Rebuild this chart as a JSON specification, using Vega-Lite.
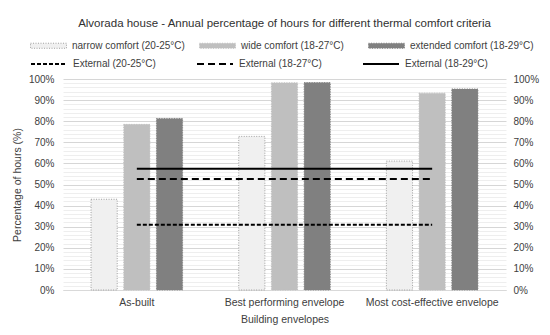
{
  "$schema": "https://vega.github.io/schema/vega-lite/v6.json",
  "width": 443,
  "height": 211,
  "autosize": {"type": "none"},
  "padding": {"left": 63, "top": 79, "right": 44, "bottom": 45},
  "background": "white",
  "config": {
    "view": {"stroke": null},
    "font": "Liberation Sans",
    "axis": {"labelColor": "#404040", "titleColor": "#404040", "labelFontSize": 10, "titleFontSize": 10.5, "titleFontWeight": "normal"},
    "legend": {"labelColor": "#404040", "labelFontSize": 10, "padding": 0}
  },
  "title": {
    "text": "Alvorada house - Annual percentage of hours for different thermal comfort criteria",
    "fontSize": 11.5,
    "fontWeight": "normal",
    "color": "#303030",
    "anchor": "middle",
    "frame": "group",
    "offset": -2
  },
  "datasets": {
    "bars": [
      {"envelope": "As-built", "criterion": "narrow comfort (20-25°C)", "value": 43},
      {"envelope": "As-built", "criterion": "wide comfort (18-27°C)", "value": 78.5},
      {"envelope": "As-built", "criterion": "extended comfort (18-29°C)", "value": 81.3},
      {"envelope": "Best performing envelope", "criterion": "narrow comfort (20-25°C)", "value": 72.8},
      {"envelope": "Best performing envelope", "criterion": "wide comfort (18-27°C)", "value": 98.2},
      {"envelope": "Best performing envelope", "criterion": "extended comfort (18-29°C)", "value": 98.3},
      {"envelope": "Most cost-effective envelope", "criterion": "narrow comfort (20-25°C)", "value": 61.1},
      {"envelope": "Most cost-effective envelope", "criterion": "wide comfort (18-27°C)", "value": 93.3},
      {"envelope": "Most cost-effective envelope", "criterion": "extended comfort (18-29°C)", "value": 95.3}
    ],
    "lines": [
      {"envelope": "As-built", "external": "External (20-25°C)", "value": 30.9},
      {"envelope": "Best performing envelope", "external": "External (20-25°C)", "value": 30.9},
      {"envelope": "Most cost-effective envelope", "external": "External (20-25°C)", "value": 30.9},
      {"envelope": "As-built", "external": "External (18-27°C)", "value": 52.6},
      {"envelope": "Best performing envelope", "external": "External (18-27°C)", "value": 52.6},
      {"envelope": "Most cost-effective envelope", "external": "External (18-27°C)", "value": 52.6},
      {"envelope": "As-built", "external": "External (18-29°C)", "value": 57.5},
      {"envelope": "Best performing envelope", "external": "External (18-29°C)", "value": 57.5},
      {"envelope": "Most cost-effective envelope", "external": "External (18-29°C)", "value": 57.5}
    ]
  },
  "layer": [
    {
      "data": {"name": "bars"},
      "mark": {"type": "bar", "strokeWidth": 1, "strokeDash": [1, 1.5]},
      "encoding": {
        "x": {
          "field": "envelope", "type": "nominal",
          "scale": {"domain": ["As-built", "Best performing envelope", "Most cost-effective envelope"], "paddingInner": 0.38, "paddingOuter": 0.19},
          "axis": {"title": "Building envelopes", "labelAngle": 0, "ticks": false, "domain": true, "domainColor": "#d9d9d9", "grid": false, "labelPadding": 7, "titlePadding": 7, "labelLimit": 300, "labelFontSize": 10.5}
        },
        "xOffset": {
          "field": "criterion", "type": "nominal",
          "scale": {"domain": ["narrow comfort (20-25°C)", "wide comfort (18-27°C)", "extended comfort (18-29°C)"], "paddingInner": 0.2}
        },
        "y": {
          "field": "value", "type": "quantitative",
          "scale": {"domain": [0, 100], "nice": false},
          "axis": {"orient": "left", "title": "Percentage of hours (%)", "values": [0, 10, 20, 30, 40, 50, 60, 70, 80, 90, 100], "labelExpr": "datum.value + '%'", "grid": false, "domain": false, "ticks": false, "labelPadding": 9, "titlePadding": 6}
        },
        "fill": {
          "field": "criterion", "type": "nominal",
          "scale": {"domain": ["narrow comfort (20-25°C)", "wide comfort (18-27°C)", "extended comfort (18-29°C)"], "range": ["#f0f0f0", "#bfbfbf", "#808080"]},
          "legend": {"orient": "none", "legendX": -33, "legendY": -52, "direction": "horizontal", "columns": 3, "gridAlign": "all", "columnPadding": 1, "title": null, "symbolType": "M-1,-0.14H1V0.14H-1Z", "symbolSize": 1296, "symbolStrokeWidth": 1, "symbolDash": [1, 1.5], "labelOffset": 5, "labelLimit": 300}
        },
        "stroke": {
          "field": "criterion", "type": "nominal",
          "scale": {"domain": ["narrow comfort (20-25°C)", "wide comfort (18-27°C)", "extended comfort (18-29°C)"], "range": ["#a0a0a0", "#bfbfbf", "#808080"]},
          "legend": null
        }
      }
    },
    {
      "data": {"name": "lines"},
      "mark": {"type": "line", "color": "#000000", "strokeWidth": 2},
      "encoding": {
        "x": {
          "field": "envelope", "type": "nominal", "bandPosition": 0.5,
          "scale": {"domain": ["As-built", "Best performing envelope", "Most cost-effective envelope"]}
        },
        "y": {
          "field": "value", "type": "quantitative",
          "scale": {"domain": [0, 100], "nice": false},
          "axis": {
            "orient": "right", "title": null,
            "values": [0, 2, 4, 6, 8, 10, 12, 14, 16, 18, 20, 22, 24, 26, 28, 30, 32, 34, 36, 38, 40, 42, 44, 46, 48, 50, 52, 54, 56, 58, 60, 62, 64, 66, 68, 70, 72, 74, 76, 78, 80, 82, 84, 86, 88, 90, 92, 94, 96, 98, 100],
            "labelExpr": "datum.value % 10 === 0 ? datum.value + '%' : ''",
            "labelOverlap": false, "labelBound": false,
            "grid": true,
            "gridColor": {"condition": {"test": "datum.value % 10 === 0", "value": "#d6d6d6"}, "value": "#eeeeee"},
            "domain": false, "ticks": false, "labelPadding": 7
          }
        },
        "strokeDash": {
          "field": "external", "type": "nominal",
          "scale": {"domain": ["External (20-25°C)", "External (18-27°C)", "External (18-29°C)"], "range": [[4, 2], [7, 4], [1, 0]]},
          "legend": {"orient": "none", "legendX": -33, "legendY": -34, "direction": "horizontal", "columns": 3, "gridAlign": "all", "columnPadding": 37, "title": null, "symbolType": "stroke", "symbolSize": 1296, "symbolStrokeWidth": 2, "symbolStrokeColor": "#000000", "labelOffset": 5, "labelLimit": 300}
        }
      }
    }
  ],
  "resolve": {"scale": {"y": "shared"}, "axis": {"y": "independent"}}
}
